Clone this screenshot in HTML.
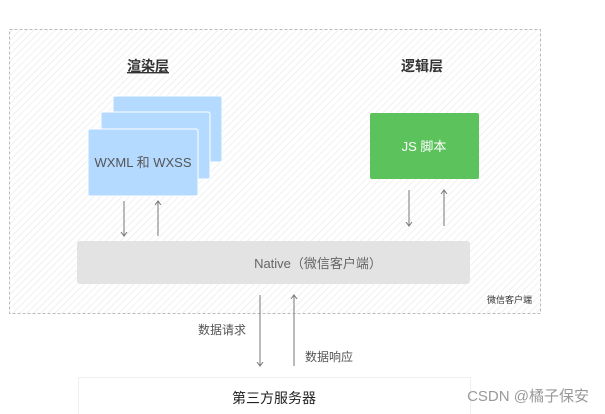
<!DOCTYPE html><html><head><style>body{margin:0;width:605px;height:414px;background:#fff;overflow:hidden;font-family:"Liberation Sans","Noto Sans CJK SC",sans-serif}</style></head><body>
<svg width="605" height="414" style="position:absolute;left:0;top:0">
<defs><pattern id="h" width="5" height="5" patternUnits="userSpaceOnUse" patternTransform="rotate(45)"><rect width="5" height="5" fill="#fff"/><line x1="0" y1="0" x2="0" y2="5" stroke="#ececec" stroke-width="1.5"/></pattern>
<marker id="a" markerWidth="8" markerHeight="8" refX="4" refY="4" orient="auto"><path d="M0,1 L4,4 L0,7" fill="none" stroke="#777" stroke-width="1"/></marker></defs>
<rect x="9.5" y="29.5" width="531" height="284" fill="url(#h)" stroke="#bbb" stroke-dasharray="3,2"/>
<text x="148" y="71" font-size="14" font-weight="bold" text-anchor="middle" fill="#333" text-decoration="underline">渲染层</text>
<text x="422" y="71" font-size="14" font-weight="bold" text-anchor="middle" fill="#333">逻辑层</text>
<rect x="113" y="96" width="109" height="66" rx="2" fill="#b4daff" stroke="#fff"/>
<rect x="101" y="112" width="109" height="67" rx="2" fill="#b4daff" stroke="#fff"/>
<rect x="88" y="129" width="110" height="67" rx="2" fill="#b4daff" stroke="#fff"/>
<text x="143" y="167" font-size="13" text-anchor="middle" fill="#555">WXML 和 WXSS</text>
<rect x="370" y="113" width="109" height="66" rx="2" fill="#5cc25c"/>
<text x="424" y="151" font-size="13" text-anchor="middle" fill="#fff">JS 脚本</text>
<rect x="77" y="241" width="393" height="43" rx="3" fill="#e3e3e3"/>
<text x="318" y="268" font-size="13" text-anchor="middle" fill="#666">Native（微信客户端）</text>
<text x="532" y="303" font-size="9" text-anchor="end" fill="#333">微信客户端</text>
<g stroke="#777" stroke-width="1" marker-end="url(#a)">
<line x1="124" y1="201" x2="124" y2="236"/><line x1="158" y1="236" x2="158" y2="201"/>
<line x1="409" y1="190" x2="409" y2="226"/><line x1="444" y1="226" x2="444" y2="190"/>
<line x1="260" y1="295" x2="260" y2="366"/><line x1="294" y1="366" x2="294" y2="295"/>
</g>
<text x="198" y="334" font-size="12" fill="#555">数据请求</text>
<text x="305" y="361" font-size="12" fill="#555">数据响应</text>
<rect x="78.5" y="377.5" width="392" height="40" fill="#fff" stroke="#eee"/>
<text x="274" y="403" font-size="14" text-anchor="middle" fill="#222">第三方服务器</text>
<text x="589" y="401" font-size="15" text-anchor="end" fill="#999">CSDN @橘子保安</text>
</svg></body></html>
